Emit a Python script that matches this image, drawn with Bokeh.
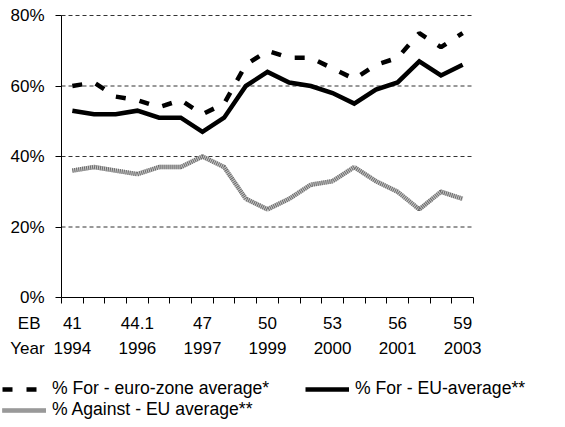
from bokeh.plotting import figure
from bokeh.layouts import column
from bokeh.models import (Range1d, FixedTicker, LinearAxis, Legend, LegendItem,
                          PrintfTickFormatter)
from bokeh.embed import file_html
from bokeh.resources import INLINE

# ---- data ----
eb_labels = ["41", "44.1", "47", "50", "53", "56", "59"]
year_labels = ["1994", "1996", "1997", "1999", "2000", "2001", "2003"]
label_index = [0, 3, 6, 9, 12, 15, 18]
for_eurozone = [60, 61, 57, 56, 54, 56, 52, 55, 66, 70, 68, 68, 65, 62, 66, 68, 75, 71, 75]
for_eu = [53, 52, 52, 53, 51, 51, 47, 51, 60, 64, 61, 60, 58, 55, 59, 61, 67, 63, 66]
against_eu = [36, 37, 36, 35, 37, 37, 40, 37, 28, 25, 28, 32, 33, 37, 33, 30, 25, 30, 28]
y_ticks = [0, 20, 40, 60, 80]
series_names = ["% For - euro-zone average*", "% For - EU-average**", "% Against - EU average**"]

n = len(for_eu)
xs = [i + 0.5 for i in range(n)]
FONT = "Liberation Sans"
FS = "17px"
W = 560
PX = 412.0 / n           # pixels per category
X0 = -61.0 / PX          # room for the y tick labels on the left
X1 = n + (W - 473) / PX  # room on the right (frame spans whole width)
PY = 282.0 / 80          # pixels per percent
Y0 = -11.0 / PY
Y1 = 80 + 11.0 / PY

p = figure(width=W, height=365, output_backend="svg", toolbar_location=None,
           x_range=Range1d(X0, X1), y_range=Range1d(Y0, Y1),
           min_border_left=0, min_border_right=0, min_border_top=4,
           min_border_bottom=57)
p.outline_line_color = None
p.background_fill_color = "white"
p.border_fill_color = "white"

# y axis drawn at x = 0
p.yaxis.fixed_location = 0
p.yaxis.bounds = (0, 80)
p.yaxis.ticker = FixedTicker(ticks=y_ticks)
p.yaxis.formatter = PrintfTickFormatter(format="%d%%")
p.yaxis.major_tick_out = 6
p.yaxis.major_tick_in = 0
p.yaxis.minor_tick_out = 0
p.yaxis.minor_tick_in = 0
p.yaxis.major_label_standoff = 11
p.yaxis.major_label_text_font = FONT
p.yaxis.major_label_text_font_size = FS
p.yaxis.major_label_text_color = "black"
p.yaxis.axis_line_color = "black"
p.yaxis.major_tick_line_color = "black"

centers = [i + 0.5 for i in label_index]

# axis line + category boundary ticks at y = 0
p.xaxis.fixed_location = 0
p.xaxis.bounds = (0, n)
p.xaxis.ticker = FixedTicker(ticks=[], minor_ticks=list(range(n + 1)))
p.xaxis.major_tick_out = 0
p.xaxis.minor_tick_out = 6
p.xaxis.minor_tick_in = 0
p.xaxis.minor_tick_line_color = "black"
p.xaxis.axis_line_color = "black"
p.xaxis.major_label_standoff = 0
p.xaxis.major_label_text_font_size = "0px"

EB_X = -1.49
YEAR_X = -1.57

ax_eb = LinearAxis(ticker=FixedTicker(ticks=[EB_X] + centers),
                   major_label_overrides=dict(zip([EB_X] + centers, ["EB"] + eb_labels)),
                   axis_line_color=None, major_tick_line_color=None,
                   minor_tick_line_color=None, major_tick_out=0, major_tick_in=0,
                   major_label_standoff=5, major_label_text_font=FONT,
                   major_label_text_font_size=FS, major_label_text_color="black")
p.add_layout(ax_eb, "below")

ax_year = LinearAxis(ticker=FixedTicker(ticks=[YEAR_X] + centers),
                     major_label_overrides=dict(zip([YEAR_X] + centers, ["Year"] + year_labels)),
                     axis_line_color=None, major_tick_line_color=None,
                     minor_tick_line_color=None, major_tick_out=0, major_tick_in=0,
                     major_label_standoff=3, major_label_text_font=FONT,
                     major_label_text_font_size=FS, major_label_text_color="black")
p.add_layout(ax_year, "below")

# grid lines from the y ticks, between the axis and the right end
p.xgrid.visible = False
p.ygrid.visible = False
gy = [t for t in y_ticks if t > 0]
p.segment(x0=[0] * len(gy), x1=[n] * len(gy), y0=gy, y1=gy,
          line_color="#333333", line_dash="4 3", line_width=1)

# series
EZ = dict(line_color="black", line_width=4.5, line_dash="10 14")
EU = dict(line_color="black", line_width=4.5, line_join="miter")
AG1 = dict(line_color="#c8c8c8", line_width=4.5)
AG2 = dict(line_color="#6a6a6a", line_width=4.5, line_dash="1 1")
p.line(xs, for_eurozone, **EZ)
p.line(xs, for_eu, **EU)
p.line(xs, against_eu, **AG1)
p.line(xs, against_eu, **AG2)

# ---- legend strip underneath ----
q = figure(width=W, height=60, output_backend="svg", toolbar_location=None,
           x_range=Range1d(0, 1), y_range=Range1d(0, 1),
           min_border_left=0, min_border_right=0, min_border_top=0, min_border_bottom=0)
q.axis.visible = False
q.grid.visible = False
q.outline_line_color = None
q.border_fill_color = "white"
# stand-in renderers outside the visible range, only used for the legend glyphs
off_x, off_y = [-5, -4], [-5, -5]
l_ez = q.line(off_x, off_y, **EZ)
l_eu = q.line(off_x, off_y, **EU)
l_ag1 = q.line(off_x, off_y, **AG1)
l_ag2 = q.line(off_x, off_y, **AG2)

legend = Legend(items=[
    LegendItem(label=series_names[0], renderers=[l_ez]),
    LegendItem(label=series_names[1], renderers=[l_eu]),
    LegendItem(label=series_names[2], renderers=[l_ag1, l_ag2]),
], orientation="horizontal", ncols=2, location=(2, 5),
    label_text_font=FONT, label_text_font_size="17.6px", label_text_color="black",
    glyph_width=44, glyph_height=18, label_height=18, label_width=253,
    label_standoff=6, spacing=0, padding=0, margin=0,
    border_line_color=None, background_fill_alpha=0)
q.add_layout(legend, "center")

open("out.html", "w").write(file_html(column(p, q, spacing=0), INLINE))
